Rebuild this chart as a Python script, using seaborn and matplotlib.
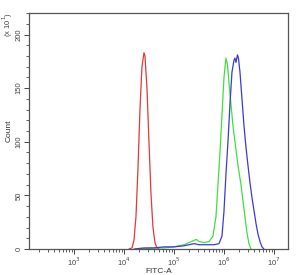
import numpy as np
import pandas as pd
import matplotlib
matplotlib.use("Agg")
import matplotlib.pyplot as plt
import seaborn as sns
from matplotlib.ticker import LogLocator, MultipleLocator, FixedLocator, NullFormatter

# log10(FITC-A) positions and counts (x10^1)
red_log = [4.10, 4.16, 4.20, 4.24, 4.28, 4.32, 4.36, 4.40, 4.42, 4.46, 4.50, 4.54, 4.58, 4.62, 4.66, 4.70]
red_cnt = [0, 1, 8, 30, 75, 130, 170, 183, 180, 150, 100, 52, 20, 6, 1, 0]

green_log = [4.30, 4.60, 4.80, 5.00, 5.10, 5.20, 5.30, 5.40, 5.45, 5.50, 5.60, 5.70, 5.78, 5.84, 5.88,
             5.92, 5.96, 6.00, 6.04, 6.07, 6.10, 6.14, 6.18, 6.22, 6.26, 6.30, 6.34, 6.38, 6.42, 6.46,
             6.50, 6.54]
green_cnt = [0, 1, 1, 2, 3, 4, 6, 8, 9, 7, 6, 7, 12, 30, 60,
             90, 125, 160, 178, 172, 155, 135, 115, 100, 85, 72, 60, 45, 30, 15,
             5, 0]

blue_log = [4.20, 4.40, 4.60, 4.80, 5.00, 5.20, 5.30, 5.40, 5.50, 5.60, 5.70, 5.80, 5.90, 5.96, 6.00,
            6.04, 6.08, 6.12, 6.16, 6.20, 6.22, 6.24, 6.27, 6.29, 6.32, 6.36, 6.40, 6.44, 6.48, 6.52,
            6.56, 6.60, 6.64, 6.68, 6.72, 6.76, 6.80]
blue_cnt = [0, 1, 1, 2, 2, 3, 4, 5, 4, 4, 4, 4, 5, 12, 35,
            70, 100, 135, 165, 176, 178, 174, 181, 178, 165, 140, 115, 95, 78, 62,
            48, 36, 24, 14, 7, 2, 0]

x_ticks = [1e3, 1e4, 1e5, 1e6, 1e7]
x_tick_labels = ["10$^3$", "10$^4$", "10$^5$", "10$^6$", "10$^7$"]
y_ticks = [0, 50, 100, 150, 200]

frames = []
for name, lx, cnt in [("red", red_log, red_cnt), ("green", green_log, green_cnt), ("blue", blue_log, blue_cnt)]:
    frames.append(pd.DataFrame({"FITC": np.power(10.0, lx), "Count": cnt, "sample": name}))
df = pd.concat(frames, ignore_index=True)

sns.set_style("white")
plt.rcParams['font.family'] = ['Liberation Sans', 'DejaVu Sans']

fig = plt.figure(figsize=(3.08, 2.75), dpi=100)
ax = fig.add_axes([0.094, 0.0945, 0.840, 0.858])

palette = {"red": "#e03a3a", "green": "#3ee03e", "blue": "#3a3ad8"}
sns.lineplot(data=df, x="FITC", y="Count", hue="sample", palette=palette,
             linewidth=0.9, legend=False, ax=ax, sort=False, estimator=None)

ax.set_xscale("log")
ax.set_xlim(10 ** 2.1, 10 ** 7.274)
ax.set_ylim(0, 220)

ax.xaxis.set_major_locator(FixedLocator(x_ticks))
ax.set_xticklabels(x_tick_labels)
ax.xaxis.set_minor_locator(LogLocator(base=10, subs=np.arange(2, 10), numticks=20))
ax.xaxis.set_minor_formatter(NullFormatter())

ax.set_yticks(y_ticks)
ax.yaxis.set_minor_locator(MultipleLocator(10))
for lbl in ax.get_yticklabels():
    lbl.set_rotation(90)
    lbl.set_va("center")

ax.tick_params(axis="both", which="major", direction="out", length=3.5, width=0.7,
               labelsize=5.5, colors="#444444", pad=1.0, bottom=True, left=True)
ax.tick_params(axis="both", which="minor", direction="out", length=2, width=0.6,
               colors="#444444", bottom=True, left=True)

for sp in ax.spines.values():
    sp.set_color("#555555")
    sp.set_linewidth(0.9)

ax.set_xlabel("FITC-A", fontsize=6, color="#333333", labelpad=0.5)
ax.set_ylabel("Count", fontsize=6, color="#333333", labelpad=2)
fig.text(0.025, 0.91, "(x 10$^1$)", rotation=90, fontsize=5.5, color="#444444",
         ha="center", va="center")

fig.savefig("out.png", dpi=100)
